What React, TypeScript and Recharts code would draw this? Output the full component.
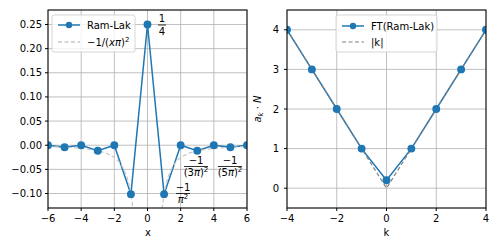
import { LineChart, Line, XAxis, YAxis, CartesianGrid } from "recharts";

/* ================= DATA ================= */

// left panel: Ram-Lak filter taps
const nValues = [-6, -5, -4, -3, -2, -1, 0, 1, 2, 3, 4, 5, 6];
const ramLakValues = [0, -0.0041, 0, -0.0113, 0, -0.1013, 0.25, -0.1013, 0, -0.0113, 0, -0.0041, 0];

// left panel: -1/(x pi)^2 curve
const curveX = [-6, -5, -4, -3, -2.5, -2, -1.75, -1.5, -1.25, -1.1, -1, -0.9, -0.8, 0, 0.8, 0.9, 1, 1.1, 1.25, 1.5, 1.75, 2, 2.5, 3, 4, 5, 6];
const curveY = [
  -0.0028, -0.0041, -0.0063, -0.0113, -0.0162, -0.0253, -0.0331, -0.045, -0.0648, -0.0837, -0.1013, -0.1251, -0.1583,
  null,
  -0.1583, -0.1251, -0.1013, -0.0837, -0.0648, -0.045, -0.0331, -0.0253, -0.0162, -0.0113, -0.0063, -0.0041, -0.0028,
];

const leftXTicks = [-6, -4, -2, 0, 2, 4, 6];
const leftYTicks = [-0.1, -0.05, 0, 0.05, 0.1, 0.15, 0.2, 0.25];

// right panel: spectrum
const kValues = [-4, -3, -2, -1, 0, 1, 2, 3, 4];
const ftValues = [4, 3, 2, 1, 0.2, 1, 2, 3, 4];
const absKValues = [4, 3, 2, 1, 0, 1, 2, 3, 4];

const rightXTicks = [-4, -2, 0, 2, 4];
const rightYTicks = [0, 1, 2, 3, 4];

/* ================= HELPERS ================= */

const BLUE = "#1f77b4";
const FONT = "DejaVu Sans, sans-serif";

const leftData = nValues.map((x, i) => ({ x, y: ramLakValues[i] }));
const curveData = curveX.map((x, i) => ({ x, y: curveY[i] }));
const ftData = kValues.map((x, i) => ({ x, y: ftValues[i] }));
const absData = kValues.map((x, i) => ({ x, y: absKValues[i] }));

const minus = (s: string) => s.replace("-", "\u2212");
const tick = { fill: "#000", fontSize: 10, fontFamily: FONT };

function Frac({ x, y, num, den, w }: { x: number; y: number; num: React.ReactNode; den: React.ReactNode; w: number }) {
  // y = position of fraction bar
  return (
    <g fontFamily={FONT} fontSize={10} textAnchor="middle">
      <text x={x} y={y - 3}>{num}</text>
      <line x1={x - w / 2} x2={x + w / 2} y1={y} y2={y} stroke="#000" strokeWidth={0.8} />
      <text x={x} y={y + 9.5}>{den}</text>
    </g>
  );
}

/* ================= COMPONENT ================= */

export default function App() {
  return (
    <div style={{ position: "absolute", left: 0, top: 0, width: 500, height: 250, background: "#fff" }}>
      <div style={{ position: "absolute", left: 0, top: 0 }}>
        <LineChart width={250} height={250} margin={{ top: 10, right: 3, bottom: 12, left: 0 }}>
          <CartesianGrid stroke="#b0b0b0" strokeWidth={0.8} />
          <XAxis
            dataKey="x"
            type="number"
            domain={[-6, 6]}
            ticks={leftXTicks}
            allowDataOverflow
            axisLine={false}
            tickSize={3}
            tickMargin={4}
            tickLine={{ stroke: "#000" }}
            tick={tick}
            tickFormatter={(v: number) => minus(String(v))}
            height={30}
          />
          <YAxis
            type="number"
            domain={[-0.13, 0.28]}
            ticks={leftYTicks}
            allowDataOverflow
            axisLine={false}
            width={48}
            tickSize={3}
            tickMargin={3}
            tickLine={{ stroke: "#000" }}
            tick={tick}
            tickFormatter={(v: number) => minus(v.toFixed(2))}
          />
          <Line data={leftData} dataKey="y" stroke={BLUE} strokeWidth={1.5}
            dot={{ r: 3.2, fill: BLUE, stroke: BLUE }} isAnimationActive={false} />
          <Line data={curveData} dataKey="y" stroke="#c8c8c8" strokeWidth={1.3} strokeDasharray="4 2.5"
            dot={false} isAnimationActive={false} />
        </LineChart>
      </div>

      <div style={{ position: "absolute", left: 250, top: 0 }}>
        <LineChart width={250} height={250} margin={{ top: 10, right: 14, bottom: 12, left: 0 }}>
          <CartesianGrid stroke="#b0b0b0" strokeWidth={0.8} />
          <XAxis
            dataKey="x"
            type="number"
            domain={[-4, 4]}
            ticks={rightXTicks}
            allowDataOverflow
            axisLine={false}
            tickSize={3}
            tickMargin={4}
            tickLine={{ stroke: "#000" }}
            tick={tick}
            tickFormatter={(v: number) => minus(String(v))}
            height={30}
          />
          <YAxis
            type="number"
            domain={[-0.5, 4.5]}
            ticks={rightYTicks}
            allowDataOverflow
            axisLine={false}
            width={37}
            tickSize={3}
            tickMargin={5}
            tickLine={{ stroke: "#000" }}
            tick={tick}
          />
          <Line data={ftData} dataKey="y" stroke={BLUE} strokeWidth={1.5}
            dot={{ r: 3.2, fill: BLUE, stroke: BLUE }} isAnimationActive={false} />
          <Line data={absData} dataKey="y" stroke="#808080" strokeWidth={1.2} strokeDasharray="4 2.5"
            dot={false} isAnimationActive={false} />
        </LineChart>
      </div>

      {/* frames, labels, legends, annotations */}
      <svg width={500} height={250} style={{ position: "absolute", left: 0, top: 0, pointerEvents: "none" }}>
        <rect x={48} y={10} width={199} height={198} fill="none" stroke="#000" strokeWidth={1} />
        <rect x={287} y={10} width={199} height={198} fill="none" stroke="#000" strokeWidth={1} />

        <text x={148} y={236} fontFamily={FONT} fontSize={10} textAnchor="middle">x</text>
        <text x={386.5} y={236} fontFamily={FONT} fontSize={10} textAnchor="middle">k</text>
        <text transform="translate(261,109) rotate(-90)" fontFamily={FONT} fontSize={10} textAnchor="middle">
          <tspan fontStyle="italic">a</tspan>
          <tspan fontStyle="italic" fontSize={7} dy={2}>k</tspan>
          <tspan dy={-2}> · </tspan>
          <tspan fontStyle="italic">N</tspan>
        </text>

        {/* left legend */}
        <rect x={52} y={15} width={83} height={37} rx={2} fill="#fff" fillOpacity={0.8} stroke="#cccccc" strokeWidth={0.8} />
        <line x1={58} x2={80} y1={25} y2={25} stroke={BLUE} strokeWidth={1.5} />
        <circle cx={69} cy={25} r={3.2} fill={BLUE} />
        <text x={87} y={29} fontFamily={FONT} fontSize={10}>Ram-Lak</text>
        <line x1={58} x2={80} y1={42} y2={42} stroke="#c8c8c8" strokeWidth={1.3} strokeDasharray="4 2.5" />
        <text x={87} y={46} fontFamily={FONT} fontSize={10}>
          {"\u22121/("}<tspan fontStyle="italic">x</tspan><tspan fontStyle="italic">π</tspan>{")"}
          <tspan fontSize={7} dy={-4}>2</tspan>
        </text>

        {/* right legend */}
        <rect x={336} y={15} width={101} height={37} rx={2} fill="#fff" fillOpacity={0.8} stroke="#cccccc" strokeWidth={0.8} />
        <line x1={342} x2={364} y1={26} y2={26} stroke={BLUE} strokeWidth={1.5} />
        <circle cx={353} cy={26} r={3.2} fill={BLUE} />
        <text x={371} y={30} fontFamily={FONT} fontSize={10}>FT(Ram-Lak)</text>
        <line x1={342} x2={364} y1={42} y2={42} stroke="#808080" strokeWidth={1.2} strokeDasharray="4 2.5" />
        <text x={371} y={46} fontFamily={FONT} fontSize={10}>|k|</text>

        {/* annotations */}
        <Frac x={162} y={25} w={8} num="1" den="4" />
        <Frac x={183} y={193.5} w={14} num={"\u22121"}
          den={<><tspan fontStyle="italic">π</tspan><tspan fontSize={7} dy={-4}>2</tspan></>} />
        <Frac x={196} y={166.5} w={24} num={"\u22121"}
          den={<>(3<tspan fontStyle="italic">π</tspan>)<tspan fontSize={7} dy={-4}>2</tspan></>} />
        <Frac x={230} y={166.5} w={24} num={"\u22121"}
          den={<>(5<tspan fontStyle="italic">π</tspan>)<tspan fontSize={7} dy={-4}>2</tspan></>} />
      </svg>
    </div>
  );
}
